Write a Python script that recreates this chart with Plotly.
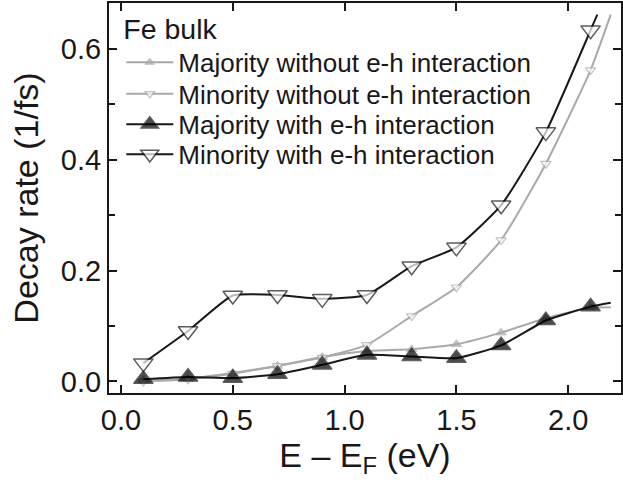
import plotly.graph_objects as go

# Excitation energy above the Fermi level (eV)
energy = [0.1, 0.3, 0.5, 0.7, 0.9, 1.1, 1.3, 1.5, 1.7, 1.9, 2.1]

# Decay rates (1/fs)
maj_without = [0.002, 0.005, 0.015, 0.028, 0.044, 0.055, 0.058, 0.067, 0.088, 0.114, 0.133]
min_without = [0.000, 0.004, 0.014, 0.028, 0.043, 0.066, 0.118, 0.170, 0.255, 0.393, 0.562]
maj_with = [0.004, 0.008, 0.006, 0.013, 0.030, 0.048, 0.045, 0.042, 0.065, 0.110, 0.135]
min_with = [0.033, 0.091, 0.155, 0.156, 0.149, 0.156, 0.208, 0.242, 0.318, 0.450, 0.634]

# End points of the curves beyond the last computed energy
tail_x = {"maj_without": 2.19, "min_without": 2.19, "maj_with": 2.19, "min_with": 2.13}
tail_y = {"maj_without": 0.134, "min_without": 0.662, "maj_with": 0.142, "min_with": 0.662}

labels = {
    "maj_without": "Majority without e-h interaction",
    "min_without": "Minority without e-h interaction",
    "maj_with": "Majority with e-h interaction",
    "min_with": "Minority with e-h interaction",
}

GREY = "#a7a9ac"
INK = "#1a1718"
FONT = "Liberation Sans, Arial, sans-serif"

styles = {
    "maj_without": dict(color=GREY, symbol="triangle-up", fill=GREY, size=9, lw=1.0),
    "min_without": dict(color=GREY, symbol="triangle-down", fill="white", size=9, lw=1.2),
    "maj_with": dict(color=INK, symbol="triangle-up", fill="#000000", size=17, lw=1.2),
    "min_with": dict(color=INK, symbol="triangle-down", fill="white", size=17, lw=1.5),
}

series = {
    "maj_without": maj_without,
    "min_without": min_without,
    "maj_with": maj_with,
    "min_with": min_with,
}

order = ["maj_without", "min_without", "maj_with", "min_with"]
legend_ids = ["legend", "legend2", "legend3", "legend4"]

fig = go.Figure()
for key, lid in zip(order, legend_ids):
    st = styles[key]
    xs = energy + [tail_x[key]]
    ys = series[key] + [tail_y[key]]
    sizes = [st["size"]] * len(energy) + [0]
    fig.add_trace(go.Scatter(
        x=xs, y=ys, name=labels[key], mode="lines+markers", legend=lid,
        line=dict(color=st["color"], width=2, shape="spline", smoothing=0.5),
        marker=dict(symbol=st["symbol"], size=sizes, color=st["fill"],
                    line=dict(color=st["color"], width=st["lw"])),
    ))

axis_common = dict(
    showline=True, linecolor=INK, linewidth=2, mirror="ticks",
    ticks="inside", tickcolor=INK, tickwidth=2, ticklen=8,
    showgrid=False, zeroline=False,
    tickfont=dict(family=FONT, size=29, color=INK),
)

fig.update_xaxes(
    range=[-0.0535, 2.236], tickvals=[0.0, 0.5, 1.0, 1.5, 2.0],
    ticktext=["0.0", "0.5", "1.0", "1.5", "2.0"],
    title=dict(text="E – E<sub>F</sub> (eV)", standoff=6,
               font=dict(family=FONT, size=34, color=INK)),
    **axis_common,
)
fig.update_yaxes(
    range=[-0.0209, 0.683], tickvals=[0.0, 0.2, 0.4, 0.6],
    ticktext=["0.0", "0.2", "0.4", "0.6"],
    minor=dict(dtick=0.1, ticks="inside", ticklen=6, tickcolor=INK, tickwidth=2),
    title=dict(text="Decay rate (1/fs)", standoff=12,
               font=dict(family=FONT, size=34, color=INK)),
    **axis_common,
)


def legend_box(y, anchor, title=None):
    box = dict(
        x=0.024, y=y, xanchor="left", yanchor=anchor,
        bgcolor="rgba(0,0,0,0)", borderwidth=0, itemwidth=47,
        font=dict(family=FONT, size=26, color=INK),
    )
    if title:
        box["title"] = dict(text=title, font=dict(family=FONT, size=28.5, color=INK))
    return box


# Row centres of the legend entries in paper units of the plot area
row_y = [0.838, 0.767, 0.689, 0.612]

fig.update_layout(
    width=623, height=485,
    margin=dict(l=109, r=0, t=3, b=92),
    paper_bgcolor="white", plot_bgcolor="white",
    showlegend=True,
    legend=legend_box(1.003, "top", "Fe bulk"),
    legend2=legend_box(row_y[1], "middle"),
    legend3=legend_box(row_y[2], "middle"),
    legend4=legend_box(row_y[3], "middle"),
)

fig.write_html("out.html")
